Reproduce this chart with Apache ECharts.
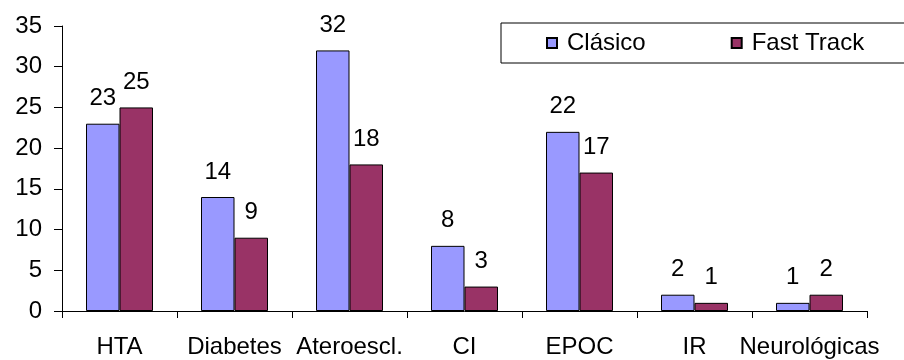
<!DOCTYPE html>
<html>
<head>
<meta charset="utf-8">
<script src="https://cdn.jsdelivr.net/npm/echarts@6/dist/echarts.min.js"></script>
<style>
  html, body { margin: 0; padding: 0; background: #fff; }
  #chart { width: 904px; height: 360px; }
</style>
</head>
<body>
<div id="chart"></div>
<script>
const categories = ['HTA', 'Diabetes', 'Ateroescl.', 'CI', 'EPOC', 'IR', 'Neurológicas'];
const clasico = [23, 14, 32, 8, 22, 2, 1];
const fastTrack = [25, 9, 18, 3, 17, 1, 2];
const seriesNames = ['Clásico', 'Fast Track'];

const FONT = '"Liberation Sans", Arial, sans-serif';

const chart = echarts.init(document.getElementById('chart'), null, { renderer: 'canvas' });

const barLabel = {
  show: true,
  position: 'top',
  distance: 13,
  color: '#000',
  fontSize: 24,
  fontFamily: FONT
};

chart.setOption({
  animation: false,
  backgroundColor: '#fff',
  textStyle: { fontFamily: FONT },
  grid: { left: 62, right: 37, top: 26, bottom: 49, containLabel: false },
  legend: {
    data: seriesNames,
    orient: 'horizontal',
    left: 501,
    top: 23,
    width: 380,
    padding: [8, 42, 8, 45],
    itemGap: 85,
    itemWidth: 10,
    itemHeight: 10,
    icon: 'rect',
    borderColor: '#000',
    borderWidth: 1,
    backgroundColor: '#fff',
    textStyle: { fontSize: 24, color: '#000', fontFamily: FONT, padding: [0, 0, 0, 5] }
  },
  xAxis: {
    type: 'category',
    data: categories,
    boundaryGap: true,
    axisLine: { lineStyle: { color: '#000', width: 1 } },
    axisTick: { show: true, length: 7, lineStyle: { color: '#000' } },
    axisLabel: { interval: 0, margin: 24, fontSize: 24, color: '#000', fontFamily: FONT },
    splitLine: { show: false }
  },
  yAxis: {
    type: 'value',
    min: 0,
    max: 35,
    interval: 5,
    axisLine: { show: true, lineStyle: { color: '#000', width: 1 } },
    axisTick: { show: true, length: 8, lineStyle: { color: '#000' } },
    axisLabel: { margin: 20, fontSize: 24, color: '#000', fontFamily: FONT },
    splitLine: { show: false }
  },
  series: [
    {
      name: seriesNames[0],
      type: 'bar',
      data: clasico,
      barWidth: 33.5,
      barGap: '0%',
      itemStyle: { color: '#9999FF', borderColor: '#000', borderWidth: 1 },
      label: barLabel
    },
    {
      name: seriesNames[1],
      type: 'bar',
      data: fastTrack,
      barWidth: 33.5,
      barGap: '0%',
      itemStyle: { color: '#993366', borderColor: '#000', borderWidth: 1 },
      label: barLabel
    }
  ]
});
</script>
</body>
</html>
